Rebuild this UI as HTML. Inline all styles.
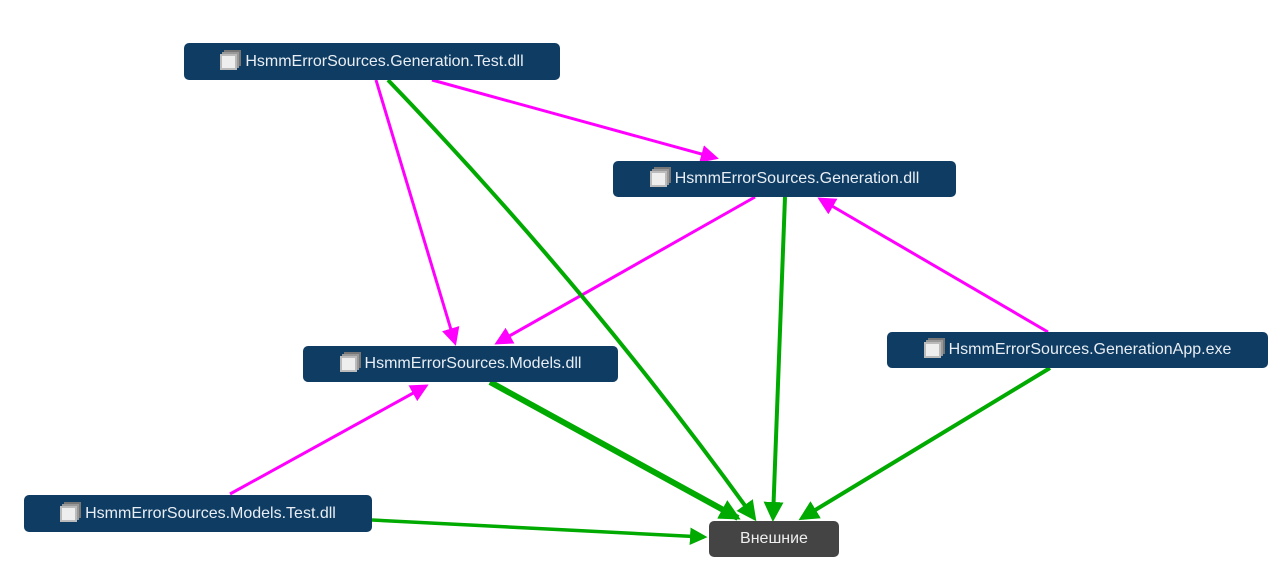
<!DOCTYPE html>
<html><head><meta charset="utf-8"><style>
body{margin:0;width:1284px;height:573px;background:#fff;position:relative;overflow:hidden;font-family:"Liberation Sans",sans-serif}
.n{position:absolute;background:#0f3c63;color:#e8eef4;border-radius:5px;font-size:16px;display:flex;align-items:center;justify-content:center;box-sizing:border-box}
.n i{display:inline-block;width:13px;height:12px;border:2px solid #bbb;background:#eee;margin-right:8px;box-shadow:2px -2px 0 #999,4px -4px 0 #777}
svg{position:absolute;left:0;top:0}
</style></head><body>
<svg width="1284" height="573">
<defs>
<marker id="m" markerWidth="6" markerHeight="6" refX="5" refY="3" orient="auto"><path d="M0,0L6,3L0,6z" fill="#f0f"/></marker>
<marker id="g" markerWidth="5" markerHeight="5" refX="4" refY="2.5" orient="auto"><path d="M0,0L5,2.5L0,5z" fill="#0a0"/></marker>
<marker id="g2" markerWidth="3.5" markerHeight="3.5" refX="3" refY="1.75" orient="auto"><path d="M0,0L3.5,1.75L0,3.5z" fill="#0a0"/></marker>
</defs>
<g stroke="#f0f" stroke-width="3" fill="none">
<line x1="376" y1="80" x2="455" y2="343" marker-end="url(#m)"/>
<line x1="432" y1="80" x2="716" y2="158" marker-end="url(#m)"/>
<line x1="755" y1="197" x2="497" y2="343" marker-end="url(#m)"/>
<line x1="1048" y1="332" x2="820" y2="199" marker-end="url(#m)"/>
<line x1="230" y1="494" x2="426" y2="386" marker-end="url(#m)"/>
</g>
<g stroke="#0a0" fill="none">
<path d="M388 80 Q590 290 754 518" stroke-width="4" marker-end="url(#g)"/>
<line x1="785" y1="197" x2="773" y2="518" stroke-width="4" marker-end="url(#g)"/>
<line x1="490" y1="382" x2="738" y2="518" stroke-width="6" marker-end="url(#g2)"/>
<line x1="1050" y1="368" x2="802" y2="518" stroke-width="4" marker-end="url(#g)"/>
<line x1="372" y1="520" x2="704" y2="537" stroke-width="3.5" marker-end="url(#g)"/>
</g>
</svg>
<div class="n" style="left:184px;top:43px;width:376px;height:37px"><i></i>HsmmErrorSources.Generation.Test.dll</div>
<div class="n" style="left:613px;top:161px;width:343px;height:36px"><i></i>HsmmErrorSources.Generation.dll</div>
<div class="n" style="left:303px;top:346px;width:315px;height:36px"><i></i>HsmmErrorSources.Models.dll</div>
<div class="n" style="left:887px;top:332px;width:381px;height:36px"><i></i>HsmmErrorSources.GenerationApp.exe</div>
<div class="n" style="left:24px;top:495px;width:348px;height:37px"><i></i>HsmmErrorSources.Models.Test.dll</div>
<div class="n" style="left:709px;top:521px;width:130px;height:36px;background:#444;color:#eee">Внешние</div>
</body></html>
